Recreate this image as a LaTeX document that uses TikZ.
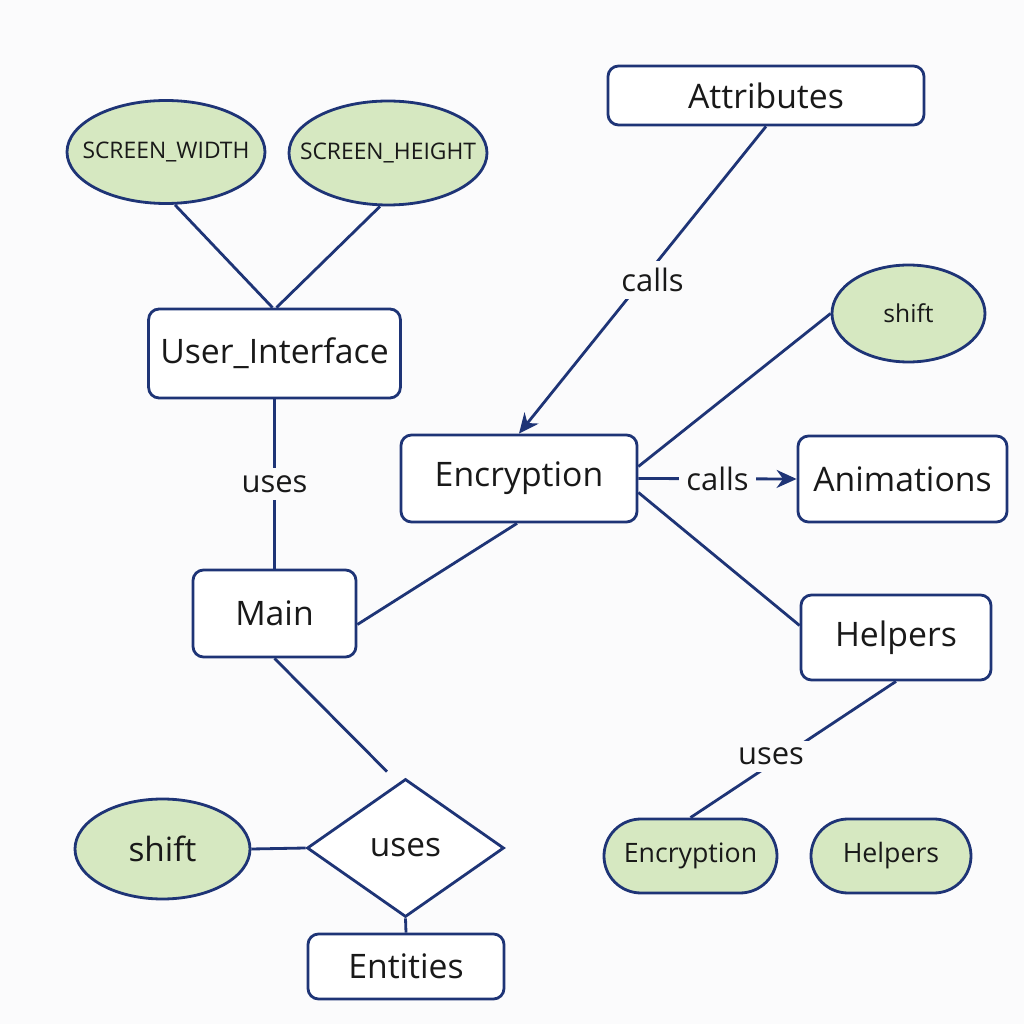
\documentclass[tikz,border=0pt]{standalone}
\usepackage{fontspec}
\setmainfont{Open Sans}
\usepackage{xcolor}
\usetikzlibrary{positioning,arrows.meta,shapes.geometric,shapes.misc}
\definecolor{navy}{RGB}{30,52,118}
\definecolor{attrgreen}{RGB}{214,232,193}
\definecolor{bgcol}{RGB}{251,251,252}
\tikzset{
  ent/.style    ={draw=navy, line width=0.8pt, rectangle, rounded corners=3pt, align=center, fill=white, text=black!90, font=\fontsize{9.6}{12}\selectfont},
  attr/.style   ={draw=navy, line width=0.8pt, ellipse, fill=attrgreen, inner sep=0pt, text=black!90},
  pill/.style   ={draw=navy, line width=0.8pt, rounded rectangle, fill=attrgreen, inner sep=0pt, text=black!90, font=\fontsize{7.6}{9}\selectfont},
  rel/.style    ={draw=navy, line width=0.8pt, diamond, fill=white, inner sep=0pt, text=black!90, font=\fontsize{9.5}{11}\selectfont},
  lnk/.style    ={draw=navy, line width=0.8pt},
  arr/.style    ={lnk, -{Stealth[length=2mm,width=1.8mm]}},
  lbl/.style    ={fill=bgcol, inner sep=2pt, text=black!90, font=\fontsize{8.8}{10}\selectfont},
}
\begin{document}
\begin{tikzpicture}
  \fill[bgcol] (0,0) rectangle (10.24,10.24);
  \useasboundingbox (0,0) rectangle (10.24,10.24);

  \node[ent, minimum width=3.16cm, minimum height=0.59cm] (attributes) at (7.66,9.285) {Attributes};
  \node[attr, minimum width=1.98cm, minimum height=1.03cm, font=\fontsize{6.5}{8}\selectfont] (swidth) at (1.66,8.72) {\makebox[0pt]{SCREEN\_WIDTH}};
  \node[attr, minimum width=1.98cm, minimum height=1.04cm, font=\fontsize{6.5}{8}\selectfont] (sheight) at (3.88,8.71) {\makebox[0pt]{SCREEN\_HEIGHT}};
  \node[ent, minimum width=2.51cm, minimum height=0.89cm] (ui) at (2.745,6.705) {User\_Interface};
  \node[ent, minimum width=2.36cm, minimum height=0.87cm] (encr) at (5.19,5.455) {Encryption};
  \node[attr, minimum width=1.53cm, minimum height=0.97cm, font=\fontsize{7}{9}\selectfont] (shiftr) at (9.085,7.105) {shift};
  \node[ent, minimum width=2.09cm, minimum height=0.86cm] (anim) at (9.025,5.45) {Animations};
  \node[ent, minimum width=1.63cm, minimum height=0.87cm] (main) at (2.745,4.105) {Main};
  \node[ent, minimum width=1.90cm, minimum height=0.85cm] (helpers) at (8.96,3.865) {Helpers};
  \node[rel, minimum width=1.97cm, minimum height=1.38cm] (uses) at (4.055,1.76) {uses};
  \node[attr, minimum width=1.75cm, minimum height=1.00cm, font=\fontsize{9.5}{11}\selectfont] (shiftl) at (1.625,1.75) {shift};
  \node[ent, minimum width=1.96cm, minimum height=0.65cm] (entities) at (4.06,0.575) {Entities};
  \node[pill, minimum width=1.73cm, minimum height=0.74cm] (encpill) at (6.905,1.68) {Encryption};
  \node[pill, minimum width=1.60cm, minimum height=0.74cm] (helpill) at (8.91,1.68) {Helpers};

  \draw[lnk] ([xshift=0.09cm]swidth.south) -- ([xshift=-0.02cm]ui.north);
  \draw[lnk] ([xshift=-0.08cm]sheight.south) -- ([xshift=0.02cm]ui.north);
  \draw[lnk] (ui.south) -- node[lbl]{uses} (main.north);
  \draw[arr] (attributes.south) -- node[lbl, pos=0.5, xshift=0.1cm]{calls} (encr.north);
  \draw[lnk] ([yshift=0.12cm]encr.east) -- (shiftr.west);
  \draw[arr] (encr.east) -- node[lbl]{calls} (anim.west);
  \draw[lnk] ([yshift=-0.14cm]encr.east) -- ([yshift=0.12cm]helpers.west);
  \draw[lnk] ([xshift=-0.02cm]encr.south) -- ([yshift=-0.11cm]main.east);
  \draw[lnk] (main.south) -- ([xshift=-0.185cm,yshift=0.06cm]uses.north);
  \draw[lnk] (shiftl.east) -- (uses.west);
  \draw[lnk] (uses.south) -- (entities.north);
  \draw[lnk] (helpers.south) -- node[lbl, pos=0.55, xshift=-0.12cm]{uses} (encpill.north);
\end{tikzpicture}
\end{document}
